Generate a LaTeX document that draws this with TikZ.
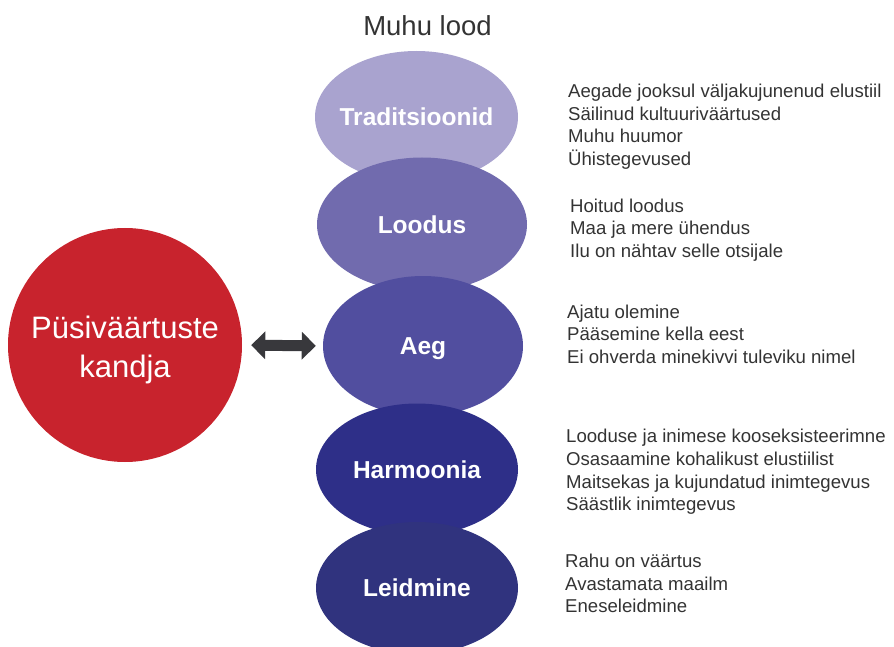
\documentclass[tikz,border=0pt]{standalone}
\usepackage{fontspec}
\setmainfont{Liberation Sans}
\usetikzlibrary{shapes.geometric,arrows.meta}
\definecolor{ctrad}{HTML}{A9A3CF}
\definecolor{clood}{HTML}{716BAE}
\definecolor{caeg}{HTML}{514E9F}
\definecolor{charm}{HTML}{2E2F88}
\definecolor{cleid}{HTML}{30337E}
\definecolor{cred}{HTML}{C8232D}
\definecolor{carrow}{HTML}{38383C}
\definecolor{ctext}{HTML}{333333}
\newcommand{\zw}[1]{\makebox[0pt]{#1}}
\tikzset{
  oval/.style={ellipse, inner sep=0pt, text=white, text height=17.5pt, text depth=0pt,
    font=\fontsize{24.5}{28}\selectfont\bfseries},
  listtext/.style={anchor=west, inner sep=0pt, align=left, text=ctext,
    font=\fontsize{18.6}{22.6}\selectfont},
  bigarrow/.style={carrow, line width=11pt,
    {Triangle[width=27pt,length=14pt]}-{Triangle[width=27pt,length=14pt]}}
}
\begin{document}
\begin{tikzpicture}[x=1pt,y=-1pt]
\useasboundingbox (0,0) rectangle (894,647);
\node[text=ctext, font=\fontsize{27.5}{30}\selectfont, inner sep=0pt] (title) at (427.5,26) {Muhu lood};

\node[oval, fill=ctrad, minimum width=203pt, minimum height=132pt] (trad) at (416.5,117) {\zw{Traditsioonid}};
\node[oval, fill=clood, minimum width=210pt, minimum height=134pt] (lood) at (422,224.5) {\zw{Loodus}};
\node[oval, fill=caeg, minimum width=200pt, minimum height=140pt] (aeg) at (423,346) {\zw{Aeg}};
\node[oval, fill=charm, minimum width=202pt, minimum height=132pt] (harm) at (417,469.5) {\zw{Harmoonia}};
\node[oval, fill=cleid, minimum width=202pt, minimum height=132pt] (leid) at (417,588) {\zw{Leidmine}};

\node[circle, fill=cred, minimum size=234pt, inner sep=0pt] (pv) at (125,345) {};
\node[text=white, align=center, inner sep=0pt, font=\fontsize{31}{39}\selectfont] (pvtext) at (125,350) {Püsiväärtuste\\kandja};

\draw[bigarrow, shorten <=9pt, shorten >=7pt] (pv.east) -- (aeg.west);

\node[listtext] (t1) at (568,126.5) {Aegade jooksul väljakujunenud elustiil\\Säilinud kultuuriväärtused\\Muhu huumor\\Ühistegevused};
\node[listtext] (t2) at (570,230) {Hoitud loodus\\Maa ja mere ühendus\\Ilu on nähtav selle otsijale};
\node[listtext] (t3) at (567,334) {Ajatu olemine\\Pääsemine kella eest\\Ei ohverda minekivvi tuleviku nimel};
\node[listtext] (t4) at (566,472) {Looduse ja inimese kooseksisteerimne\\Osasaamine kohalikust elustiilist\\Maitsekas ja kujundatud inimtegevus\\Säästlik inimtegevus};
\node[listtext] (t5) at (565,583.5) {Rahu on väärtus\\Avastamata maailm\\Eneseleidmine};
\end{tikzpicture}
\end{document}
